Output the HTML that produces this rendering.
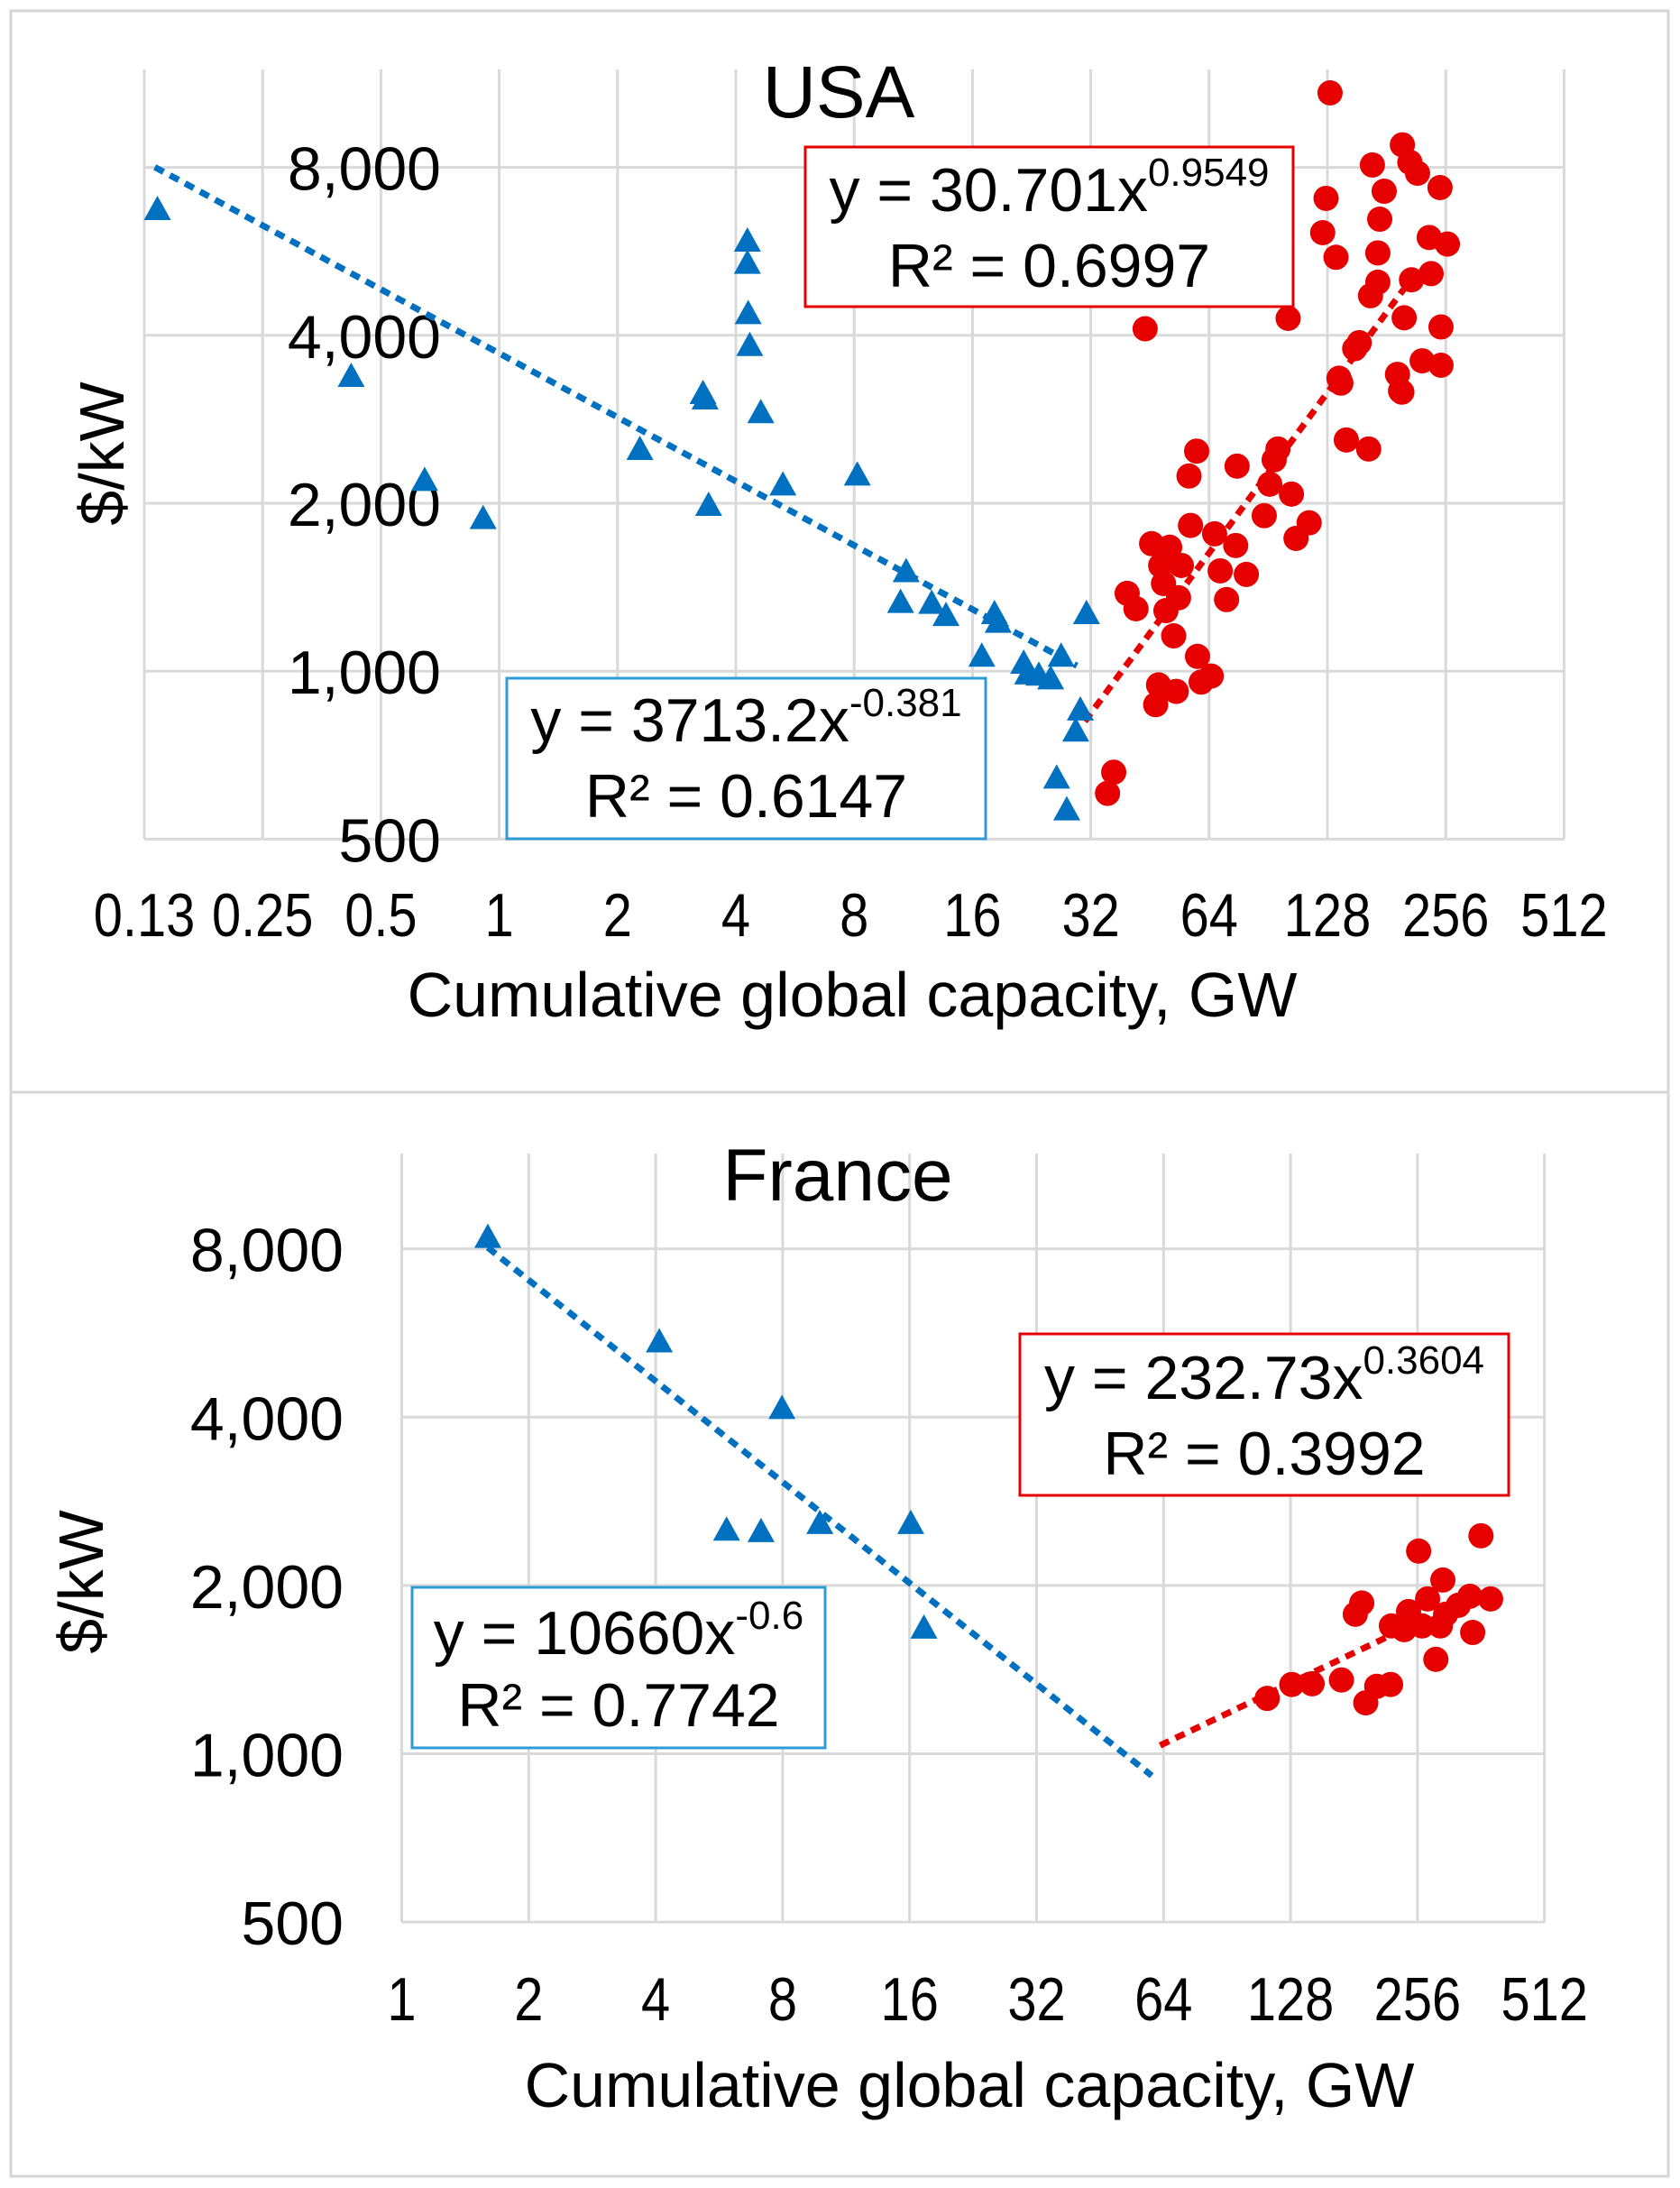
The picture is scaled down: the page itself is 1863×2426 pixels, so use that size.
<!DOCTYPE html>
<html><head><meta charset="utf-8"><style>
html,body{margin:0;padding:0;background:#fff}
svg{display:block}
text{font-family:"Liberation Sans",Arial,sans-serif;fill:#000}
</style></head><body>
<svg id="chart" width="1863" height="2426" viewBox="0 0 1863 2426" xmlns="http://www.w3.org/2000/svg">
<rect x="12" y="12" width="1838" height="1199" fill="none" stroke="#d6d6d6" stroke-width="3"/>
<rect x="12" y="1211" width="1838" height="1202" fill="none" stroke="#d6d6d6" stroke-width="3"/>
<g id="usa"></g>
<g id="fra"></g>
</svg>
<script>
// ---- USA data ----
const usaXTicks = ["0.13","0.25","0.5","1","2","4","8","16","32","64","128","256","512"];
const usaYTicks = [8000,4000,2000,1000,500];
const usaBlueX = [0.135,0.42,0.646,0.91,2.28,3.34,3.3,3.41,4.28,4.28,4.3,4.34,4.63,5.27,8.15,10.85,10.5,12.6,13.7,18.2,18.6,16.9,21.6,22.1,23.6,25.3,26.9,31.2,30.1,29.3,26.2,27.8];
const usaBlueY = [6730,3380,2200,1880,2500,3080,3150,1985,5910,5390,4380,3840,2910,2160,2250,1510,1330,1325,1260,1270,1225,1065,1035,990,985,970,1065,1270,853,782,644,565];
const usaRedX = [59.5,56.9,75.4,95.8,93.7,91.3,103.7,88.4,115,106.5,143,163,138.5,198,57.4,45.7,50.8,66.1,74.8,48.2,54.4,49,68.3,79.6,39.6,41.7,53.5,49.7,70.9,52,59.8,64.8,61.1,47.6,52.8,46.8,36.6,35.3,
 130,198.6,207.5,217,247.6,166.6,178.5,127,124.5,134.6,173.9,172,232.4,258.5,172,164.8,209.5,235,200.7,249,101.7,44,154.2,150.2,137,223,249,193,196.5];
const usaRedY = [2480,2238,2331,2502,2393,2164,2077,1900,1845,1730,2597,2502,3284,3164,1825,1693,1668,1763,1680,1547,1547,1436,1513,1491,1379,1294,1354,1284,1344,1157,1063,980,956,945,920,871,659,604,
 10880,8780,8170,7810,7360,8080,7250,7040,6110,5520,6460,5620,5990,5830,4980,4710,5030,5160,4300,4140,4290,4110,3880,3785,3350,3600,3535,3405,3180];
// ---- France data ----
const fraXTicks = ["1","2","4","8","16","32","64","128","256","512"];
const fraYTicks = [8000,4000,2000,1000,500];
const fraBlueX = [1.6,4.08,7.97,5.89,7.11,9.8,16.1,17.3];
const fraBlueY = [8400,5460,4150,2515,2500,2585,2585,1680];
const fraRedX = [112.7,128.9,144,169,193,204.9,221,188.8,182.3,257.6,362,283,222,243.8,270.5,294,320,290,340.8,381.6,346,262.6,298.5,238];
const fraRedY = [1256,1330,1334,1355,1233,1320,1330,1860,1776,2304,2454,1475,1693,1796,1892,2045,1843,1693,1913,1892,1648,1693,1776,1667];
// trend fits
const usaBlueFit = [3713.2,-0.381,0.133,29.5];
const usaRedFit = [30.701,0.9549,30.9,200];
const fraBlueFit = [10660,-0.6,1.6,60];
const fraRedFit = [232.73,0.3604,62.8,224];

const NS="http://www.w3.org/2000/svg";
function mk(parent,tag,attrs,text){const e=document.createElementNS(NS,tag);for(const k in attrs)e.setAttribute(k,attrs[k]);if(text!==undefined)e.textContent=text;parent.appendChild(e);return e;}
const BLUE="#0070C0", RED="#E60000", GRID="#d9d9d9";

function drawChart(g,cfg){
  const sx=v=>cfg.x0+Math.log2(v/cfg.xmin)*cfg.dx;
  const sy=v=>cfg.y8000-Math.log2(v/8000)*cfg.dy;
  cfg.xTicks.forEach((t,i)=>{
    const x=sx(cfg.xmin*Math.pow(2,i));
    const l=mk(g,'line',{x1:x,x2:x,y1:cfg.top,y2:cfg.bottom,stroke:GRID,'stroke-width':3});
    
    
    const tx=mk(g,'text',{x:0,y:0,'font-size':68,'text-anchor':'middle',transform:`translate(${x},${cfg.xLabelY}) scale(0.85,1)`},t);
    
    
  });
  cfg.yTicks.forEach(v=>{
    const y=sy(v);
    const l=mk(g,'line',{x1:cfg.x0,x2:cfg.x1,y1:y,y2:y,stroke:GRID,'stroke-width':3});
    
    
    const tx=mk(g,'text',{x:cfg.yLabelX,y:y+25,'font-size':68,'text-anchor':'end'},v.toLocaleString('en-US'));
    
    
  });
  const ttl=mk(g,'text',{x:cfg.titleX,y:cfg.titleY,'font-size':82,'text-anchor':'middle'},cfg.title);
  
  
  const xt=mk(g,'text',{x:cfg.xTitleX,y:cfg.xTitleY,'font-size':70,'text-anchor':'middle'},'Cumulative global capacity, GW');
  
  
  const yt=mk(g,'text',{x:0,y:0,'font-size':70,'text-anchor':'middle',transform:`translate(${cfg.yTitleX},${cfg.yTitleY}) rotate(-90)`},'$/kW');
  
  
  [[cfg.blueFit,BLUE,'blue-trendline'],[cfg.redFit,RED,'red-trendline']].forEach(([f,c,n])=>{
    const pts=[];
    for(let k=0;k<=40;k++){const x=f[2]*Math.pow(f[3]/f[2],k/40);pts.push(sx(x).toFixed(1)+','+sy(f[0]*Math.pow(x,f[1])).toFixed(1));}
    const pl=mk(g,'polyline',{points:pts.join(' '),fill:'none',stroke:c,'stroke-width':7,'stroke-dasharray':'11 8'});
    
    
  });
  cfg.bx.forEach((v,i)=>{
    const x=sx(v),y=sy(cfg.by[i]);
    const p=mk(g,'polygon',{points:`${x},${y-15} ${x-15},${y+12} ${x+15},${y+12}`,fill:BLUE});
    
    
  });
  cfg.rx.forEach((v,i)=>{
    const c=mk(g,'circle',{cx:sx(v),cy:sy(cfg.ry[i]),r:14,fill:RED});
    
    
  });
  cfg.boxes.forEach(b=>{
    const bg=mk(g,'g',{});
    
    
    mk(bg,'rect',{x:b.x,y:b.y,width:b.w,height:b.h,fill:'#fff',stroke:b.c,'stroke-width':3});
    const cx=b.x+b.w/2;
    const t1=mk(bg,'text',{x:cx,y:b.l1,'font-size':68,'text-anchor':'middle'});
    mk(t1,'tspan',{},b.eq);
    mk(t1,'tspan',{'font-size':44,dy:-28},b.exp);
    mk(bg,'text',{x:cx,y:b.l2,'font-size':68,'text-anchor':'middle'},b.r2);
  });
}

drawChart(document.getElementById('usa'),{
  x0:160,x1:1735,dx:131.2,xmin:0.125,y8000:185.6,dy:186.2,top:77,bottom:930,
  xTicks:usaXTicks,yTicks:usaYTicks,xLabelY:1038,yLabelX:489,
  title:'USA',titleX:930,titleY:130,xTitleX:945,xTitleY:1127,yTitleX:137,yTitleY:503,
  bx:usaBlueX,by:usaBlueY,rx:usaRedX,ry:usaRedY,blueFit:usaBlueFit,redFit:usaRedFit,
  boxes:[
    {name:'red-equation-box',x:893,y:163,w:541,h:177,c:RED,l1:234,l2:318,eq:'y = 30.701x',exp:'0.9549',r2:'R² = 0.6997'},
    {name:'blue-equation-box',x:562,y:752,w:531,h:178,c:'#2E9BD6',l1:822,l2:906,eq:'y = 3713.2x',exp:'-0.381',r2:'R² = 0.6147'}
  ]
});
drawChart(document.getElementById('fra'),{
  x0:445.5,x1:1713,dx:140.8,xmin:1,y8000:1384.7,dy:186.6,top:1279,bottom:2131,
  xTicks:fraXTicks,yTicks:fraYTicks,xLabelY:2240,yLabelX:381,
  title:'France',titleX:929,titleY:1331,xTitleX:1075,xTitleY:2336,yTitleX:114,yTitleY:1754,
  bx:fraBlueX,by:fraBlueY,rx:fraRedX,ry:fraRedY,blueFit:fraBlueFit,redFit:fraRedFit,
  boxes:[
    {name:'red-equation-box',x:1131,y:1479,w:542,h:179,c:RED,l1:1551,l2:1635,eq:'y = 232.73x',exp:'0.3604',r2:'R² = 0.3992'},
    {name:'blue-equation-box',x:457,y:1760,w:458,h:178,c:'#2E9BD6',l1:1834,l2:1914,eq:'y = 10660x',exp:'-0.6',r2:'R² = 0.7742'}
  ]
});
</script>
</body></html>
